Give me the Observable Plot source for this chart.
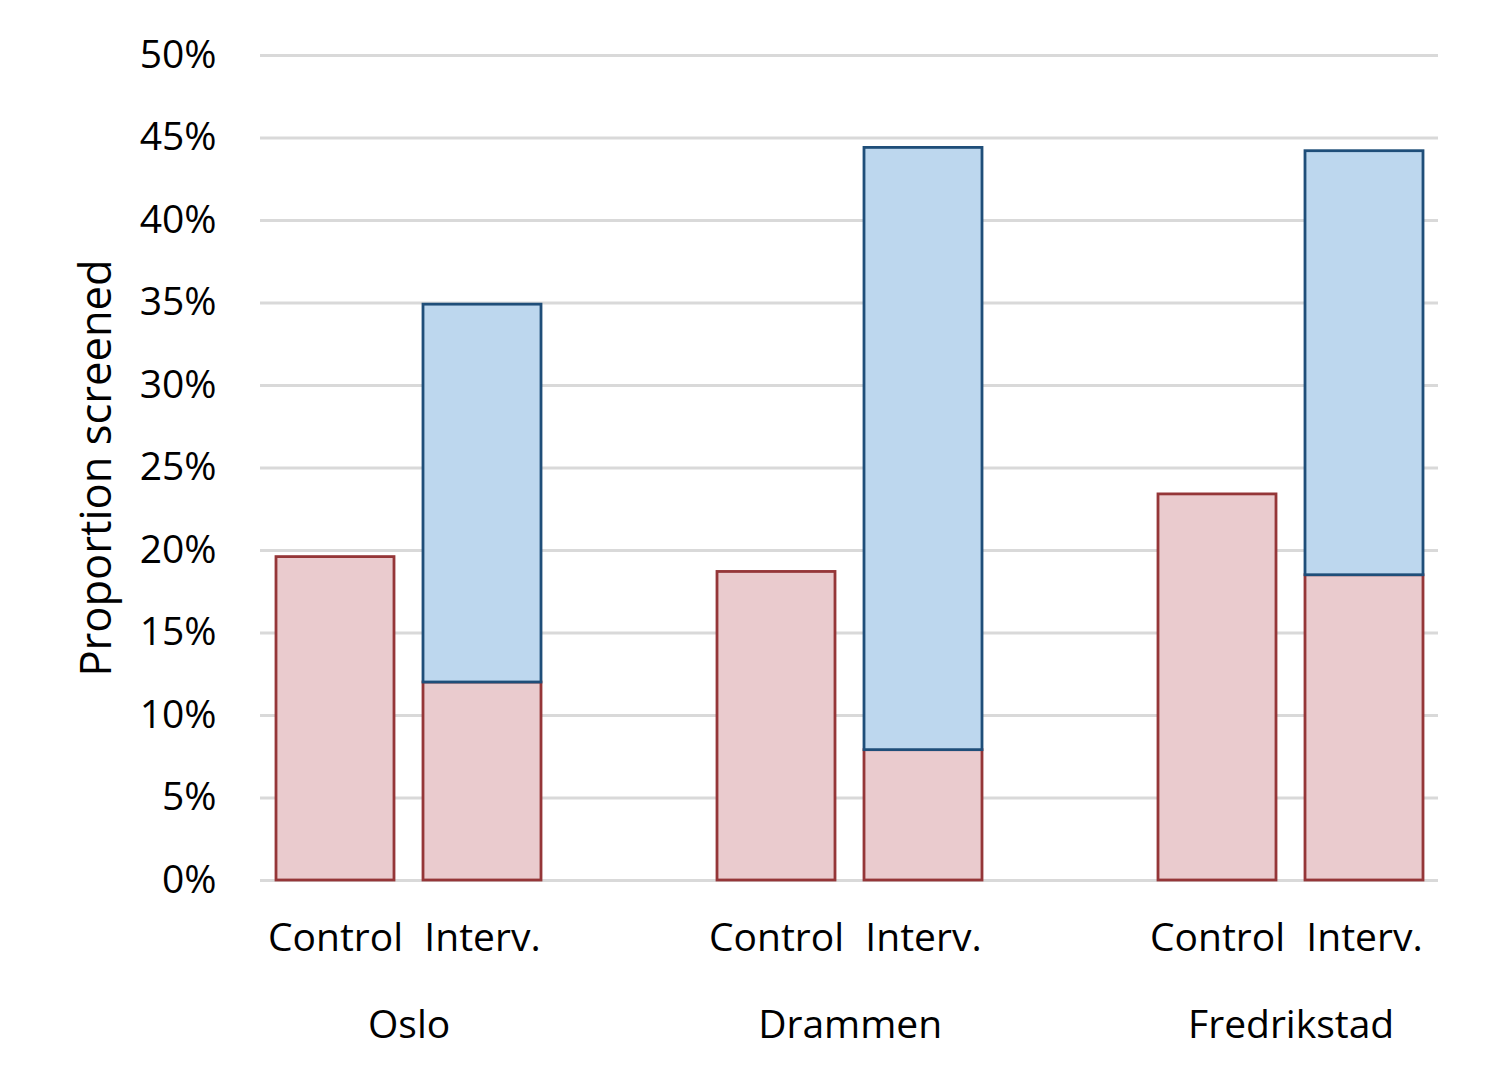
<!DOCTYPE html>
<html>
<head>
<meta charset="utf-8">
<script src="https://cdn.jsdelivr.net/npm/d3@7"></script>
<script src="https://cdn.jsdelivr.net/npm/@observablehq/plot@0.6"></script>
<style>
  html, body { margin: 0; padding: 0; background: #fff; }
</style>
</head>
<body>
<div id="chart"></div>
<script>
const cities = ["Oslo", "Drammen", "Fredrikstad"];
const groups = ["Control", "Interv."];
const controlValues = [19.6, 18.7, 23.4];      // % screened, control
const intervBaseValues = [12.0, 7.9, 18.5];    // % screened, intervention (pink part)
const intervTotalValues = [34.9, 44.4, 44.2];  // % screened, intervention (total, blue top)
const yTicks = [0, 5, 10, 15, 20, 25, 30, 35, 40, 45, 50];

const key = (c, g) => c + "|" + g;
const xDomain = [];
cities.forEach((c, i) => {
  groups.forEach(g => xDomain.push(key(c, g)));
  if (i < cities.length - 1) xDomain.push("gap" + i);
});

const pinkRows = [];
const blueRows = [];
cities.forEach((c, i) => {
  pinkRows.push({x: key(c, "Control"), y1: 0, y2: controlValues[i]});
  pinkRows.push({x: key(c, "Interv."), y1: 0, y2: intervBaseValues[i]});
  blueRows.push({x: key(c, "Interv."), y1: intervBaseValues[i], y2: intervTotalValues[i]});
});

const W = 1495, H = 1080, mL = 260, mR = 57, mT = 55, mB = 200;
const step = (W - mL - mR) / xDomain.length;

const chart = Plot.plot({
  width: W,
  height: H,
  marginLeft: mL,
  marginRight: mR,
  marginTop: mT,
  marginBottom: mB,
  style: {fontFamily: "'Open Sans', sans-serif", fontSize: "39px", color: "#000", background: "#fff"},
  x: {domain: xDomain, paddingInner: 0.2, paddingOuter: 0.1, label: null, tickSize: 0, tickPadding: 43,
      tickFormat: d => d.startsWith("gap") ? "" : d.split("|")[1]},
  y: {domain: [0, 50], ticks: yTicks, label: null, tickSize: 0, tickPadding: 44, tickFormat: d => d + "%"},
  marks: [
    Plot.ruleY(yTicks, {stroke: "#d9d9d9", strokeWidth: 3}),
    Plot.barY(pinkRows, {x: "x", y1: "y1", y2: "y2", fill: "#eacbce", stroke: "#953638", strokeWidth: 2.8}),
    Plot.barY(blueRows, {x: "x", y1: "y1", y2: "y2", fill: "#bdd7ee", stroke: "#1f4e79", strokeWidth: 2.8}),
    Plot.text(cities, {x: d => key(d, "Control"), text: d => d, frameAnchor: "bottom", lineAnchor: "middle", dx: step / 2, dy: 145, fill: "#000"}),
    Plot.text(["Proportion screened"], {text: d => d, frameAnchor: "left", textAnchor: "middle", lineAnchor: "middle", rotate: -90, dx: -163, fontSize: 43.5, fill: "#000"})
  ]
});
document.getElementById("chart").appendChild(chart);
</script>
</body>
</html>
